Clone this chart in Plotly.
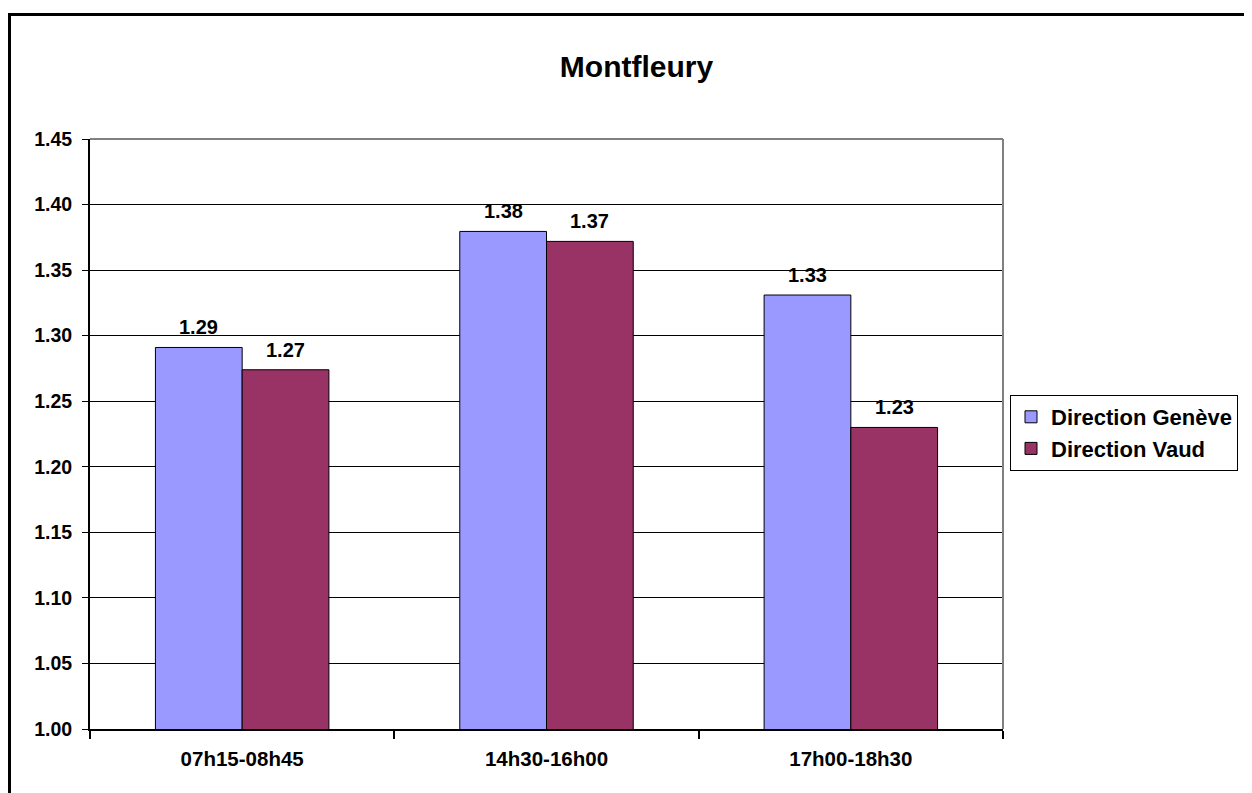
import plotly.graph_objects as go

categories = ["07h15-08h45", "14h30-16h00", "17h00-18h30"]
geneve = [1.2910, 1.3795, 1.3310]
vaud = [1.2740, 1.3719, 1.2300]
series_names = ["Direction Genève", "Direction Vaud"]
y_ticks = [1.00, 1.05, 1.10, 1.15, 1.20, 1.25, 1.30, 1.35, 1.40, 1.45]

OFF = 8  # page body margin
W, H = 1252 - OFF, 793 - OFF
L, T = 90 - OFF, 139 - OFF
R = W - (1003 - OFF)
B = H - (729 - OFF)
pw, ph = W - L - R, H - T - B

def px_x(p):
    return (p - OFF - L) / pw

def px_y(p):
    return (H - B - (p - OFF)) / ph

FONT = "Liberation Sans, Arial, sans-serif"
BARGAP = 0.43
bar_w_px = pw / len(categories) * (1 - BARGAP) / 2

fig = go.Figure()
for i, (name, vals, col) in enumerate([(series_names[0], geneve, "#9999FF"),
                                        (series_names[1], vaud, "#993366")]):
    fig.add_trace(go.Bar(
        x=categories, y=vals, name=name,
        marker=dict(color=col, line=dict(color="black", width=1)),
    ))
    shift = (i - 0.5) * bar_w_px
    for c, v in zip(categories, vals):
        fig.add_annotation(x=c, y=v, xref="x", yref="y", text=f"{v:.2f}",
                           showarrow=False, xshift=shift, yshift=20,
                           yanchor="middle", xanchor="center",
                           font=dict(family=FONT, size=20, color="black", weight="bold"))

fig.update_layout(
    width=W, height=H,
    margin=dict(l=L, r=R, t=T, b=B, autoexpand=False),
    paper_bgcolor="white", plot_bgcolor="white",
    barmode="group", bargap=BARGAP, bargroupgap=0,
    title=dict(text="Montfleury", x=px_x(636.5), xref="paper", xanchor="center",
               y=1 - (66 - OFF) / H, yanchor="middle", yref="container",
               font=dict(family=FONT, size=30, color="black", weight="bold")),
    font=dict(family=FONT, color="black"),
    legend=dict(x=px_x(1010), xanchor="left", y=px_y(433), yanchor="middle",
                bordercolor="black", borderwidth=1, bgcolor="white",
                font=dict(family=FONT, size=22, color="black", weight="bold"),
                itemwidth=30, tracegroupgap=0),
    showlegend=True,
)

fig.update_yaxes(range=[1.0, 1.45], tickvals=y_ticks, ticktext=[f"{v:.2f}" for v in y_ticks],
                 showgrid=True, gridcolor="black", gridwidth=1,
                 showline=True, linecolor="black", linewidth=2,
                 ticks="outside", ticklen=6, tickcolor="black", tickwidth=1,
                 tickfont=dict(family=FONT, size=19.5, color="black", weight="bold"),
                 ticklabelstandoff=6, zeroline=False)
fig.update_xaxes(showline=True, linecolor="black", linewidth=2,
                 ticks="outside", ticklen=8, tickcolor="black", tickwidth=2, tickson="boundaries",
                 tickfont=dict(family=FONT, size=20.5, color="black", weight="bold"),
                 ticklabelstandoff=10, showgrid=False)

# plot area border (gray top and right)
fig.add_shape(type="line", xref="paper", yref="paper", x0=0, x1=1, y0=1, y1=1,
              line=dict(color="#808080", width=2), layer="above")
fig.add_shape(type="line", xref="paper", yref="paper", x0=1, x1=1, y0=0, y1=1,
              line=dict(color="#808080", width=2), layer="above")
# outer chart border
fig.add_shape(type="rect", xref="paper", yref="paper",
              x0=px_x(9.5), x1=px_x(1275), y0=px_y(14.5), y1=px_y(820),
              line=dict(color="black", width=3), layer="above")

fig.write_html("out.html")
